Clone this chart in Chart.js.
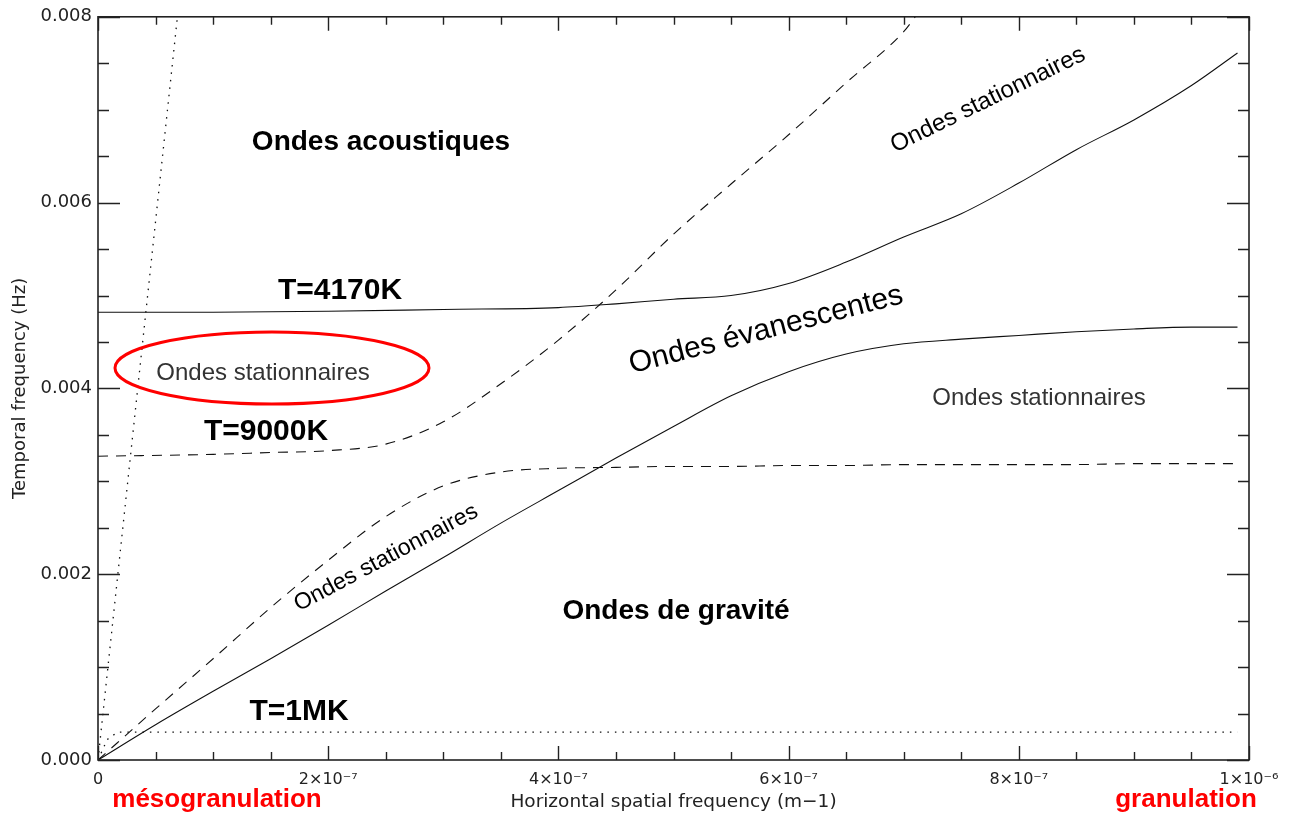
<!DOCTYPE html>
<html>
<head>
<meta charset="utf-8">
<script src="https://cdn.jsdelivr.net/npm/chart.js@4.4.1/dist/chart.umd.min.js"></script>
<style>
  html, body { margin: 0; padding: 0; background: #fff; }
  #wrap { width: 1292px; height: 814px; }
</style>
</head>
<body>
<div id="wrap"><canvas id="chart" width="1292" height="814"></canvas></div>
<script>
// Spatial frequency grid (m^-1) shared by the lower curves
const kGrid = [0, 0.5e-7, 1e-7, 1.5e-7, 2e-7, 2.5e-7, 3e-7, 3.5e-7, 4e-7, 4.5e-7, 5e-7,
               5.5e-7, 6e-7, 6.5e-7, 7e-7, 7.5e-7, 8e-7, 8.5e-7, 9e-7, 9.5e-7, 9.9e-7];

// T=4170K (solid lines)
const kHot4170Up = [0, 1e-7, 2e-7, 3e-7, 4e-7, 4.5e-7, 5e-7, 5.5e-7, 6e-7, 6.5e-7, 7e-7,
                    7.5e-7, 8e-7, 8.5e-7, 9e-7, 9.5e-7, 9.9e-7];
const f4170Up = [0.00482, 0.00482, 0.00483, 0.00485, 0.00487, 0.00491, 0.00496, 0.00500, 0.00513,
                 0.00536, 0.00563, 0.00588, 0.00621, 0.00657, 0.00689, 0.00726, 0.00761];
const f4170Low = [0, 0.00038, 0.00074, 0.00109, 0.00145, 0.00182, 0.00218, 0.00255, 0.00290, 0.00325,
                  0.00359, 0.00392, 0.00418, 0.00437, 0.00448, 0.00453, 0.00457, 0.00461, 0.00464,
                  0.00466, 0.00466];

// T=9000K (dashed lines)
const k9000Up = [0, 1e-7, 1.5e-7, 2e-7, 2.5e-7, 3e-7, 3.5e-7, 4e-7, 4.5e-7, 5e-7, 5.5e-7, 6e-7,
                 6.5e-7, 7e-7, 7.1e-7];
const f9000Up = [0.00327, 0.00329, 0.00331, 0.00333, 0.00340, 0.00364, 0.00405, 0.00452, 0.00506,
                 0.00566, 0.00620, 0.00673, 0.00729, 0.00784, 0.00800];
const f9000Low = [0, 0.00055, 0.00109, 0.00164, 0.00215, 0.00262, 0.00295, 0.00310, 0.00314, 0.00315,
                  0.00316, 0.00316, 0.00317, 0.00317, 0.00318, 0.00318, 0.00318, 0.00318, 0.00319,
                  0.00319, 0.00319];

// T=1MK (dotted lines)
const k1MKUp = [0, 0.69e-7];
const f1MKUp = [0, 0.008];
const k1MKLow = [0, 0.08e-7, 0.17e-7, 9.9e-7];
const f1MKLow = [0, 0.00022, 0.0003, 0.0003];

// Axis ticks
const xMajor = [0, 2e-7, 4e-7, 6e-7, 8e-7, 1e-6];
const xTickLabels = ['0', '2×10⁻⁷', '4×10⁻⁷', '6×10⁻⁷', '8×10⁻⁷', '1×10⁻⁶'];
const yMajor = [0, 0.002, 0.004, 0.006, 0.008];
const yTickLabels = ['0.000', '0.002', '0.004', '0.006', '0.008'];

function pts(xs, ys) {
  return xs.map((x, i) => ({ x: x, y: ys[i] }));
}

function line(xs, ys, dash, smooth) {
  return {
    data: pts(xs, ys),
    showLine: true,
    borderColor: '#111',
    borderWidth: dash && dash[0] < 3 ? 1.3 : 1.1,
    borderDash: dash || [],
    pointRadius: 0,
    fill: false,
    cubicInterpolationMode: smooth ? 'monotone' : 'default',
    tension: 0
  };
}

const AXIS_FONT = 'DejaVu Sans';
const LABEL_FONT = '"Liberation Sans", Arial, sans-serif';

function text(ctx, str, x, y, font, color, angle) {
  ctx.save();
  ctx.translate(x, y);
  if (angle) ctx.rotate(angle * Math.PI / 180);
  ctx.font = font;
  ctx.fillStyle = color;
  ctx.textAlign = 'center';
  ctx.textBaseline = 'middle';
  ctx.fillText(str, 0, 0);
  ctx.restore();
}

// Frame with inward ticks on all four sides, plus the annotations
const framePlugin = {
  id: 'frame',
  afterDraw(chart) {
    const ctx = chart.ctx;
    const a = chart.chartArea;
    const xs = chart.scales.x, ys = chart.scales.y;
    ctx.save();
    ctx.strokeStyle = '#222';
    ctx.lineWidth = 1.6;
    ctx.strokeRect(a.left, a.top, a.right - a.left, a.bottom - a.top);

    ctx.lineWidth = 1.4;
    ctx.beginPath();
    const xStep = (xMajor[1] - xMajor[0]) / 4;
    for (let i = 0; i <= (xMajor.length - 1) * 4; i++) {
      const px = Math.round(xs.getPixelForValue(i * xStep)) + 0.5;
      const len = i % 4 === 0 ? 14 : 8;
      ctx.moveTo(px, a.bottom); ctx.lineTo(px, a.bottom - len);
      ctx.moveTo(px, a.top); ctx.lineTo(px, a.top + len);
    }
    const yStep = (yMajor[1] - yMajor[0]) / 4;
    for (let i = 0; i <= (yMajor.length - 1) * 4; i++) {
      const py = Math.round(ys.getPixelForValue(i * yStep)) + 0.5;
      const len = i % 4 === 0 ? 22 : 11;
      ctx.moveTo(a.left, py); ctx.lineTo(a.left + len, py);
      ctx.moveTo(a.right, py); ctx.lineTo(a.right - len, py);
    }
    ctx.stroke();

    // region labels
    text(ctx, 'Ondes acoustiques', 381, 142, 'bold 28px ' + LABEL_FONT, '#000');
    text(ctx, 'Ondes de gravité', 676, 611, 'bold 28px ' + LABEL_FONT, '#000');
    text(ctx, 'T=4170K', 340, 291, 'bold 30px ' + LABEL_FONT, '#000');
    text(ctx, 'T=9000K', 266, 432, 'bold 30px ' + LABEL_FONT, '#000');
    text(ctx, 'T=1MK', 299, 712, 'bold 30px ' + LABEL_FONT, '#000');
    text(ctx, 'Ondes évanescentes', 766, 330, '30px ' + LABEL_FONT, '#000', -14.5);
    text(ctx, 'Ondes stationnaires', 988, 100, '24px ' + LABEL_FONT, '#000', -26);
    text(ctx, 'Ondes stationnaires', 386, 558, '23px ' + LABEL_FONT, '#000', -28);
    text(ctx, 'Ondes stationnaires', 263, 373, '24px ' + LABEL_FONT, '#333');
    text(ctx, 'Ondes stationnaires', 1039, 398, '24px ' + LABEL_FONT, '#333');

    // highlighted region
    ctx.strokeStyle = '#f00';
    ctx.lineWidth = 3;
    ctx.beginPath();
    ctx.ellipse(272, 368, 157, 36, 0, 0, Math.PI * 2);
    ctx.stroke();

    text(ctx, 'mésogranulation', 217, 800, 'bold 26px ' + LABEL_FONT, '#f00');
    text(ctx, 'granulation', 1186, 800, 'bold 26px ' + LABEL_FONT, '#f00');
    ctx.restore();
  }
};

new Chart(document.getElementById('chart'), {
  type: 'scatter',
  data: {
    datasets: [
      line(kHot4170Up, f4170Up, null, true),
      line(kGrid, f4170Low, null, true),
      line(k9000Up, f9000Up, [10, 8], true),
      line(kGrid, f9000Low, [10, 8], true),
      line(k1MKUp, f1MKUp, [1.5, 6], false),
      line(k1MKLow, f1MKLow, [1.5, 6], false)
    ]
  },
  options: {
    responsive: false,
    animation: false,
    events: [],
    layout: { padding: { top: 13, right: 43, left: 0, bottom: 0 } },
    plugins: { legend: { display: false }, tooltip: { enabled: false } },
    scales: {
      x: {
        type: 'linear', min: 0, max: 1e-6,
        grid: { display: false, drawTicks: false }, border: { display: false },
        afterBuildTicks: s => { s.ticks = xMajor.map(v => ({ value: v })); },
        afterFit: s => { s.height = 54; },
        ticks: {
          autoSkip: false, maxRotation: 0, padding: 10, color: '#222',
          font: { family: AXIS_FONT, size: 16 },
          callback: (v, i) => xTickLabels[i]
        },
        title: {
          display: true, text: 'Horizontal spatial frequency (m−1)', color: '#222',
          font: { family: AXIS_FONT, size: 18.5 }, padding: { top: 0, bottom: 1 }
        }
      },
      y: {
        type: 'linear', min: 0, max: 0.008,
        grid: { display: false, drawTicks: false }, border: { display: false },
        afterBuildTicks: s => { s.ticks = yMajor.map(v => ({ value: v })); },
        afterFit: s => { s.width = 98; },
        ticks: {
          autoSkip: false, padding: 6, color: '#222',
          font: { family: AXIS_FONT, size: 18 },
          callback: (v, i) => yTickLabels[i]
        },
        title: {
          display: true, text: 'Temporal frequency (Hz)', color: '#222',
          font: { family: AXIS_FONT, size: 18 }, padding: { top: 10, bottom: 0 }
        }
      }
    }
  },
  plugins: [framePlugin]
});
</script>
</body>
</html>
